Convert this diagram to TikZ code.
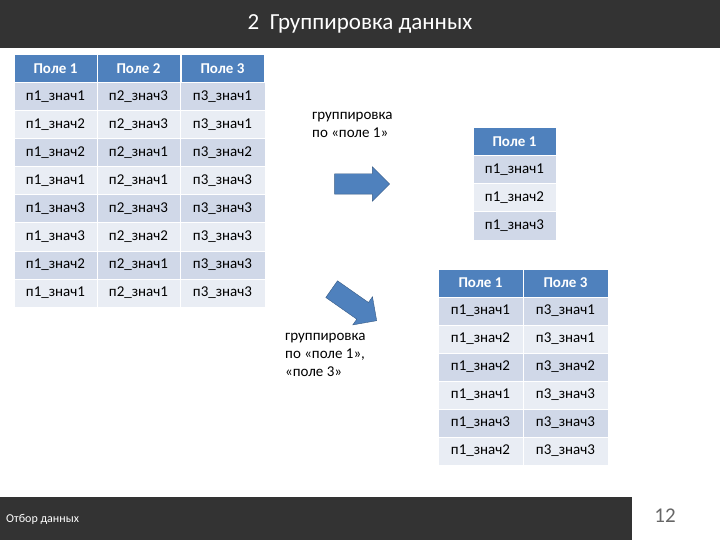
\documentclass[tikz,border=0pt]{standalone}
\usepackage{fontspec}
\setmainfont{Carlito}
\usetikzlibrary{shapes.arrows}
\definecolor{hdr}{HTML}{4F81BD}
\definecolor{rowa}{HTML}{D0D8E8}
\definecolor{rowb}{HTML}{E9EDF4}
\definecolor{bar}{HTML}{333333}
\begin{document}
\begin{tikzpicture}[x=1pt,y=-1pt,
cell/.style={draw=white,line width=1pt,minimum height=28pt,inner sep=0,font=\fontsize{15}{15}\selectfont},
head/.style={cell,fill=hdr,text=white,font=\fontsize{15}{15}\selectfont\bfseries},
oddrow/.style={cell,fill=rowa},
evenrow/.style={cell,fill=rowb},
note/.style={align=left,anchor=north west,font=\fontsize{15}{18}\selectfont,inner sep=0},
bigarrow/.style={single arrow,draw=hdr!70!black,fill=hdr,minimum height=55pt,inner xsep=0,inner ysep=10pt,single arrow head extend=7pt}]
\useasboundingbox (0,0) rectangle (720,540);
% title and footer bars
\fill[bar] (0,0) rectangle (720,48);
\node[text=white,font=\fontsize{23}{23}\selectfont] (title) at (360,24) {2\ \ Группировка данных};
\fill[bar] (0,497) rectangle (632,540);
\node[text=white,anchor=west,font=\fontsize{12}{12}\selectfont,inner sep=0] (foot) at (6,519) {Отбор данных};
\node[text=black!60,font=\fontsize{21}{21}\selectfont] (page) at (665,516) {12};
% source table
\foreach \c/\x in {1/55.5,2/138.5,3/222.5}
  \node[head,minimum width=83pt] (ah\c) at (\x,69) {Поле \c};
\foreach \r/\a/\b/\cc in {1/1/3/1,2/2/3/1,3/2/1/2,4/1/1/3,5/3/3/3,6/3/2/3,7/2/1/3,8/1/1/3} {
  \pgfmathsetmacro\yy{69+28*\r}
  \pgfmathtruncatemacro\odd{mod(\r,2)}
  \ifnum\odd=1 \def\rs{oddrow}\else\def\rs{evenrow}\fi
  \node[\rs,minimum width=83pt] (a\r1) at (55.5,\yy) {п1\_знач\a};
  \node[\rs,minimum width=83pt] (a\r2) at (138.5,\yy) {п2\_знач\b};
  \node[\rs,minimum width=85pt] (a\r3) at (222.5,\yy) {п3\_знач\cc};
}
% grouped by field 1
\node[head,minimum width=83pt] (bh) at (514.5,142) {Поле 1};
\foreach \r/\a in {1/1,2/2,3/3} {
  \pgfmathsetmacro\yy{142+28*\r}
  \pgfmathtruncatemacro\odd{mod(\r,2)}
  \ifnum\odd=1 \def\rs{oddrow}\else\def\rs{evenrow}\fi
  \node[\rs,minimum width=83pt] (b\r) at (514.5,\yy) {п1\_знач\a};
}
% grouped by fields 1 and 3
\node[head,minimum width=85pt] (ch1) at (480.5,283) {Поле 1};
\node[head,minimum width=85pt] (ch3) at (565.5,283) {Поле 3};
\foreach \r/\a/\cc in {1/1/1,2/2/1,3/2/2,4/1/3,5/3/3,6/2/3} {
  \pgfmathsetmacro\yy{283+28*\r}
  \pgfmathtruncatemacro\odd{mod(\r,2)}
  \ifnum\odd=1 \def\rs{oddrow}\else\def\rs{evenrow}\fi
  \node[\rs,minimum width=85pt] (c\r1) at (480.5,\yy) {п1\_знач\a};
  \node[\rs,minimum width=85pt] (c\r3) at (565.5,\yy) {п3\_знач\cc};
}
% arrows and notes
\node[bigarrow] (arr1) at (357,184) {};
\node[bigarrow,rotate=-35] (arr2) at (350,302) {};
\node[note] (n1) at (312,112) {группировка\\по «поле 1»};
\node[note] (n2) at (285,333) {группировка\\по «поле 1»,\\«поле 3»};
\end{tikzpicture}
\end{document}
